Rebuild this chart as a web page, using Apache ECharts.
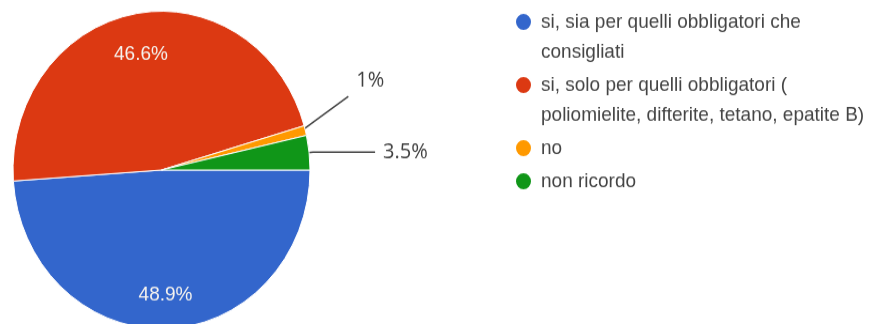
<!DOCTYPE html>
<html>
<head>
<meta charset="utf-8">
<script src="https://cdn.jsdelivr.net/npm/echarts@6/dist/echarts.min.js"></script>
<style>
  html, body { margin: 0; padding: 0; background: #ffffff; width: 878px; height: 324px; }
  #chart {
    width: 878px;
    height: 303px;
    transform: scaleY(1.0693);
    transform-origin: 0 0;
  }
</style>
</head>
<body>
<div id="chart"></div>
<script>
// Answers (percent of respondents)
const categories = [
  'si, sia per quelli obbligatori che\nconsigliati',
  'si, solo per quelli obbligatori (\npoliomielite, difterite, tetano, epatite B)',
  'no',
  'non ricordo'
];
const values = [48.9, 46.6, 1, 3.5];
const colors = ['#3366cc', '#dc3912', '#ff9900', '#109618'];

// Slices below this share get an outside label with a leader line
const SMALL_SLICE = 5;
const LEGEND_LINE_HEIGHT = 28;
const MARKER = 17;
const LINE_INSET = 6;

const CENTER = [161.5, 159];
const RADIUS = 148.5;

const maxLines = Math.max(...categories.map(n => n.split('\n').length));
const legendItemHeight = MARKER + (maxLines - 1) * LEGEND_LINE_HEIGHT;

// Round marker pinned to the top of the item box, so it sits beside the first text line
function topCircleIcon() {
  const r = MARKER / 2;
  return 'path://M0,' + r + 'a' + r + ',' + r + ' 0 1,0 ' + MARKER + ',0a' + r + ',' + r +
    ' 0 1,0 -' + MARKER + ',0M' + r + ',' + legendItemHeight;
}

const chart = echarts.init(document.getElementById('chart'), null, { renderer: 'canvas' });

const pieData = categories.map((name, i) => ({
  name: name,
  value: values[i],
  itemStyle: { color: colors[i] },
  label: { show: values[i] < SMALL_SLICE },
  labelLine: { show: values[i] < SMALL_SLICE }
}));

const labelRingData = categories.map((name, i) => ({
  name: name,
  value: values[i],
  label: { show: values[i] >= SMALL_SLICE }
}));

const legendData = categories.map(name => ({
  name: name,
  icon: name.indexOf('\n') >= 0 ? topCircleIcon() : 'circle',
  symbolKeepAspect: true
}));

chart.setOption({
  animation: false,
  backgroundColor: '#ffffff',
  legend: {
    orient: 'vertical',
    left: 514,
    top: 6.5,
    padding: 0,
    itemWidth: MARKER,
    itemHeight: legendItemHeight,
    itemGap: 3,
    symbolKeepAspect: true,
    selectedMode: false,
    data: legendData,
    textStyle: {
      fontFamily: 'Liberation Sans, Arial, sans-serif',
      fontSize: 19,
      lineHeight: LEGEND_LINE_HEIGHT,
      color: '#444444',
      padding: [0, 0, 0, 4]
    }
  },
  series: [
    {
      type: 'pie',
      center: CENTER,
      radius: RADIUS,
      startAngle: 0,
      clockwise: true,
      avoidLabelOverlap: false,
      itemStyle: { borderColor: '#ffffff', borderWidth: 1 },
      emphasis: { disabled: true },
      label: {
        position: 'outside',
        formatter: '{c}%',
        fontFamily: 'Open Sans, sans-serif',
        fontSize: 20,
        color: '#404040',
        distanceToLabelLine: 8
      },
      labelLine: {
        length: 4,
        length2: 62,
        smooth: false,
        lineStyle: { color: '#444444', width: 1.5 }
      },
      labelLayout: function (p) {
        const pts = p.labelLinePoints;
        if (!pts || pts.length < 2) return {};
        const a = pts[0], b = pts[1];
        const len = Math.hypot(b[0] - a[0], b[1] - a[1]) || 1;
        const ux = (b[0] - a[0]) / len, uy = (b[1] - a[1]) / len;
        const start = [a[0] - ux * LINE_INSET, a[1] - uy * LINE_INSET];
        if (p.dataIndex === 2) {
          // thin slice: label lifted up-right, straight diagonal leader
          const end = [a[0] + 43, a[1] - 32];
          return { x: a[0] + 51, y: a[1] - 47, labelLinePoints: [start, end] };
        }
        return { labelLinePoints: [start].concat(pts.slice(1)) };
      },
      data: pieData
    },
    {
      // percentage labels of the large slices, placed toward the rim
      type: 'pie',
      center: CENTER,
      radius: [80, RADIUS],
      startAngle: 0,
      clockwise: true,
      silent: true,
      itemStyle: { color: 'rgba(0,0,0,0)' },
      label: {
        position: 'inside',
        formatter: '{c}%',
        fontFamily: 'Liberation Sans, Arial, sans-serif',
        fontSize: 19,
        color: '#f6f3ef'
      },
      labelLine: { show: false },
      labelLayout: function (p) {
        // the upper label sits slightly nearer the centre
        if (p.dataIndex !== 1) return {};
        const r = p.labelRect;
        return { x: r.x + r.width / 2, y: r.y + r.height / 2 + 7 };
      },
      data: labelRingData
    }
  ]
});
</script>
</body>
</html>
